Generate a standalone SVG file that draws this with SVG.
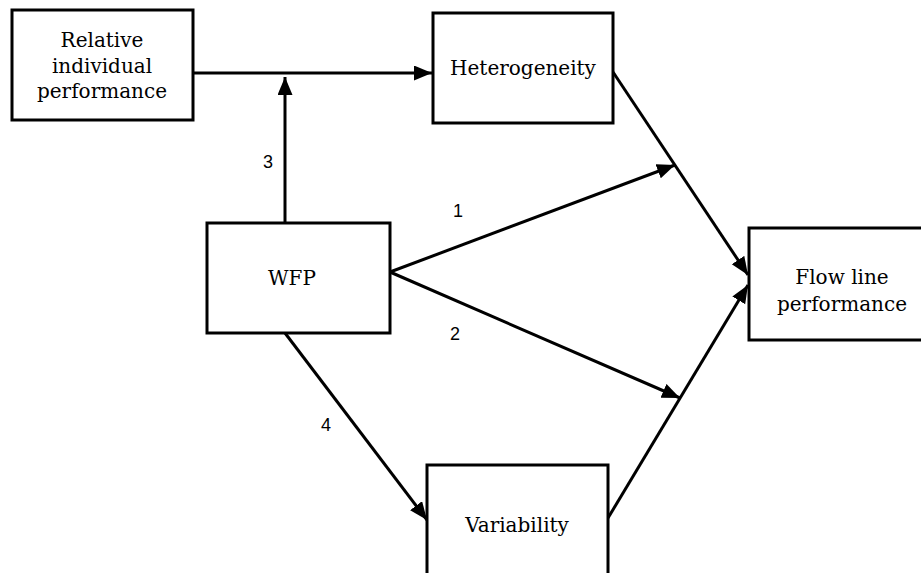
<svg xmlns="http://www.w3.org/2000/svg" width="921" height="573" viewBox="0 0 921 573">
<style>
  .box { fill: #fff; stroke: #000; stroke-width: 3; }
  .lbl { font-family: "DejaVu Serif", "Liberation Serif", serif; font-size: 20px; fill: #000; text-anchor: middle; }
  .num { font-family: "Liberation Sans", Arial, sans-serif; font-size: 18px; fill: #000; text-anchor: middle; }
  .edge { stroke: #000; stroke-width: 3; fill: none; }
</style>
<defs>
  <marker id="ah" markerUnits="userSpaceOnUse" markerWidth="20" markerHeight="16" refX="18" refY="7.5" orient="auto">
    <path d="M0,0 L18,7.5 L0,15 z" fill="#000"/>
  </marker>
</defs>
<rect width="921" height="573" fill="#fff"/>
<g id="connectors">
  <line class="edge" x1="193" y1="73" x2="432" y2="73" marker-end="url(#ah)"/>
  <line class="edge" x1="285" y1="223" x2="285" y2="77" marker-end="url(#ah)"/>
  <line class="edge" x1="613" y1="72" x2="748" y2="275" marker-end="url(#ah)"/>
  <line class="edge" x1="608" y1="518" x2="748" y2="285" marker-end="url(#ah)"/>
  <line class="edge" x1="390" y1="272" x2="675" y2="165" marker-end="url(#ah)"/>
  <line class="edge" x1="390" y1="272" x2="680" y2="398" marker-end="url(#ah)"/>
  <line class="edge" x1="285" y1="333" x2="427" y2="520" marker-end="url(#ah)"/>
  <text class="num" x="268" y="168">3</text>
  <text class="num" x="458" y="217">1</text>
  <text class="num" x="455" y="340">2</text>
  <text class="num" x="326" y="431">4</text>
</g>
<g id="relative">
  <rect class="box" x="12" y="10" width="181" height="110"/>
  <text class="lbl" x="102" y="47">Relative</text>
  <text class="lbl" x="102" y="73">individual</text>
  <text class="lbl" x="102" y="98">performance</text>
</g>
<g id="heterogeneity">
  <rect class="box" x="433" y="13" width="180" height="110"/>
  <text class="lbl" x="523" y="75">Heterogeneity</text>
</g>
<g id="wfp">
  <rect class="box" x="207" y="223" width="183" height="110"/>
  <text class="lbl" x="292" y="285">WFP</text>
</g>
<g id="variability">
  <rect class="box" x="427" y="465" width="181" height="120"/>
  <text class="lbl" x="517" y="532">Variability</text>
</g>
<g id="flow">
  <rect class="box" x="749" y="228" width="180" height="112"/>
  <text class="lbl" x="842" y="284">Flow line</text>
  <text class="lbl" x="842" y="311">performance</text>
</g>
</svg>
